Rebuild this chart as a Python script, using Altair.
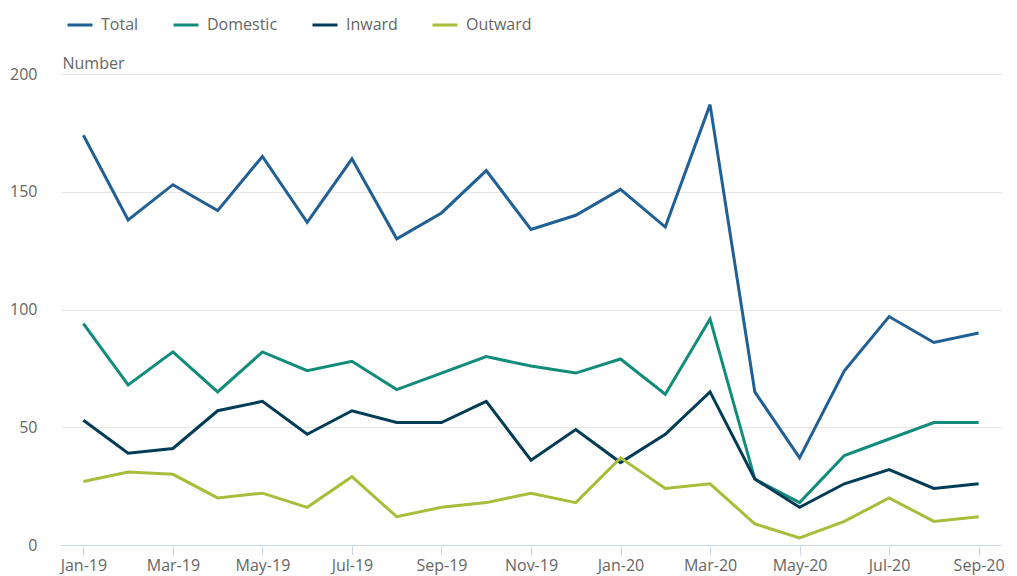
import altair as alt
import pandas as pd

months = ["Jan-19", "Feb-19", "Mar-19", "Apr-19", "May-19", "Jun-19", "Jul-19",
          "Aug-19", "Sep-19", "Oct-19", "Nov-19", "Dec-19", "Jan-20", "Feb-20",
          "Mar-20", "Apr-20", "May-20", "Jun-20", "Jul-20", "Aug-20", "Sep-20"]
total = [174, 138, 153, 142, 165, 137, 164, 130, 141, 159, 134, 140, 151, 135,
         187, 65, 37, 74, 97, 86, 90]
domestic = [94, 68, 82, 65, 82, 74, 78, 66, 73, 80, 76, 73, 79, 64,
            96, 28, 18, 38, 45, 52, 52]
inward = [53, 39, 41, 57, 61, 47, 57, 52, 52, 61, 36, 49, 35, 47,
          65, 28, 16, 26, 32, 24, 26]
outward = [27, 31, 30, 20, 22, 16, 29, 12, 16, 18, 22, 18, 37, 24,
           26, 9, 3, 10, 20, 10, 12]
series_names = ["Total", "Domestic", "Inward", "Outward"]
series_colors = ["#206095", "#118c7b", "#003c57", "#a8bd3a"]
tick_months = months[::2]

rows = []
for name, vals in zip(series_names, [total, domestic, inward, outward]):
    for m, v in zip(months, vals):
        rows.append({"month": m, "series": name, "value": v})
df = pd.DataFrame(rows)

font = "Open Sans"

chart = alt.Chart(df).mark_line(strokeWidth=3).encode(
    x=alt.X("month:O", sort=months,
            scale=alt.Scale(type="point", padding=0.5),
            axis=alt.Axis(values=tick_months, title=None, labelAngle=0,
                          labelFontSize=16, labelColor="#666666", labelFont=font,
                          domainColor="#ccd6eb", domainWidth=1,
                          tickColor="#ccd6eb", tickSize=10, tickWidth=1,
                          labelPadding=2, grid=False)),
    y=alt.Y("value:Q", scale=alt.Scale(domain=[0, 200], nice=False),
            axis=alt.Axis(values=[0, 50, 100, 150, 200], title="Number",
                          titleAngle=0, titleX=1, titleY=-6, titleAlign="left",
                          titleBaseline="alphabetic", titleFontSize=16,
                          titleFontWeight="normal", titleColor="#666666",
                          titleFont=font,
                          labelFontSize=16, labelColor="#666666", labelFont=font,
                          labelPadding=24, domain=False, ticks=False,
                          gridColor="#e6e6e6", gridWidth=1)),
    color=alt.Color("series:N", sort=series_names,
                    scale=alt.Scale(domain=series_names, range=series_colors),
                    legend=alt.Legend(title=None, orient="none", direction="horizontal",
                                      legendX=5, legendY=-63,
                                      symbolType="stroke", symbolSize=625,
                                      symbolStrokeWidth=3, labelOffset=7,
                                      labelFontSize=16, labelColor="#666666",
                                      labelFont=font, columnPadding=28)),
    order=alt.Order("series_order:Q"),
).transform_calculate(
    series_order="indexof(['Outward','Inward','Domestic','Total'], datum.series)"
).properties(
    width=940, height=471,
    padding={"left": 53, "top": 66, "right": 8, "bottom": 30},
    autosize=alt.AutoSizeParams(type="none"),
).configure(
    font=font,
    view=alt.ViewConfig(stroke="transparent", strokeWidth=0),
)

chart.save("out.html", embed_options={"renderer": "svg", "actions": False})
